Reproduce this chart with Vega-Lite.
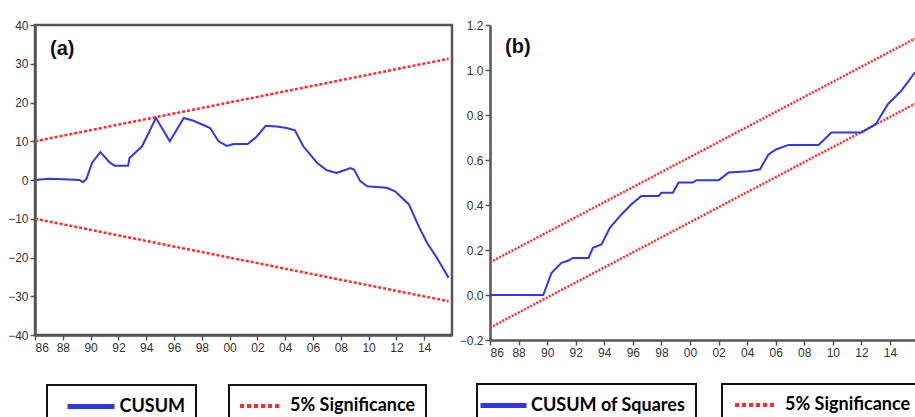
{
  "$schema": "https://vega.github.io/schema/vega-lite/v6.json",
  "padding": {"left": 6, "top": 17, "right": 0, "bottom": 0},
  "spacing": 4,
  "background": "white",
  "config": {
    "view": {"stroke": "#555", "strokeWidth": 2.5},
    "axis": {
      "grid": false,
      "domainColor": "#555",
      "domainWidth": 2.5,
      "tickColor": "#555",
      "tickSize": 5,
      "tickWidth": 1.5,
      "labelFont": "Liberation Sans",
      "labelFontSize": 12,
      "labelColor": "#333",
      "labelPadding": 2,
      "title": null
    },
    "legend": {
      "orient": "none",
      "title": null,
      "strokeColor": "#111",
      "strokeWidth": 2,
      "padding": 10,
      "labelFont": "Lato",
      "labelFontWeight": "bold",
      "labelFontSize": 18,
      "labelColor": "#000",
      "symbolSize": 324
    }
  },
  "datasets": {
    "cusum": [
      {"year": 1986.0, "value": 0},
      {"year": 1987.0, "value": 0.3},
      {"year": 1988.0, "value": 0.2},
      {"year": 1989.2, "value": 0},
      {"year": 1989.45, "value": -0.6},
      {"year": 1989.7, "value": 0.3},
      {"year": 1990.1, "value": 4.4},
      {"year": 1990.7, "value": 7.2},
      {"year": 1991.4, "value": 4.4},
      {"year": 1991.75, "value": 3.7},
      {"year": 1992.7, "value": 3.7},
      {"year": 1992.8, "value": 5.7},
      {"year": 1993.7, "value": 8.7},
      {"year": 1994.7, "value": 16},
      {"year": 1995.7, "value": 10},
      {"year": 1996.7, "value": 16},
      {"year": 1997.4, "value": 15.3},
      {"year": 1998.6, "value": 13.4},
      {"year": 1999.2, "value": 10},
      {"year": 1999.8, "value": 8.8},
      {"year": 2000.3, "value": 9.3},
      {"year": 2001.3, "value": 9.3},
      {"year": 2001.9, "value": 11},
      {"year": 2002.6, "value": 14},
      {"year": 2003.4, "value": 13.8},
      {"year": 2004.1, "value": 13.4},
      {"year": 2004.7, "value": 12.8},
      {"year": 2005.3, "value": 8.7},
      {"year": 2006.3, "value": 4.4},
      {"year": 2007.0, "value": 2.5},
      {"year": 2007.7, "value": 1.8},
      {"year": 2008.7, "value": 3.1},
      {"year": 2008.95, "value": 2.7},
      {"year": 2009.4, "value": -0.3},
      {"year": 2009.9, "value": -1.6},
      {"year": 2011.3, "value": -2.0},
      {"year": 2011.9, "value": -2.9},
      {"year": 2012.9, "value": -6.3},
      {"year": 2013.6, "value": -11.9},
      {"year": 2014.2, "value": -16.2},
      {"year": 2014.9, "value": -20},
      {"year": 2015.75, "value": -25.2}
    ],
    "cusumBounds": [
      {"year": 1986.0, "value": 10, "bound": "upper"},
      {"year": 2015.75, "value": 31.3, "bound": "upper"},
      {"year": 1986.0, "value": -10, "bound": "lower"},
      {"year": 2015.75, "value": -31.3, "bound": "lower"}
    ],
    "cusumsq": [
      {"year": 1986.0, "value": 0},
      {"year": 1989.73, "value": 0},
      {"year": 1990.3, "value": 0.098},
      {"year": 1991.0, "value": 0.143},
      {"year": 1991.5, "value": 0.153},
      {"year": 1991.8, "value": 0.165},
      {"year": 1992.9, "value": 0.165},
      {"year": 1993.2, "value": 0.21},
      {"year": 1993.8, "value": 0.225},
      {"year": 1994.4, "value": 0.30},
      {"year": 1995.2, "value": 0.358},
      {"year": 1995.9, "value": 0.403},
      {"year": 1996.6, "value": 0.44},
      {"year": 1997.8, "value": 0.44},
      {"year": 1998.0, "value": 0.455},
      {"year": 1998.8, "value": 0.455},
      {"year": 1999.2, "value": 0.50},
      {"year": 2000.2, "value": 0.50},
      {"year": 2000.45, "value": 0.51},
      {"year": 2002.0, "value": 0.51},
      {"year": 2002.7, "value": 0.544},
      {"year": 2004.1, "value": 0.55},
      {"year": 2004.9, "value": 0.559},
      {"year": 2005.5, "value": 0.625},
      {"year": 2006.05, "value": 0.648},
      {"year": 2006.9, "value": 0.667},
      {"year": 2009.0, "value": 0.667},
      {"year": 2009.9, "value": 0.722},
      {"year": 2012.0, "value": 0.722},
      {"year": 2013.0, "value": 0.759},
      {"year": 2013.85, "value": 0.848},
      {"year": 2014.8, "value": 0.908},
      {"year": 2015.75, "value": 0.99}
    ],
    "cusumsqBounds": [
      {"year": 1986.0, "value": 0.145, "bound": "upper"},
      {"year": 2015.75, "value": 1.14, "bound": "upper"},
      {"year": 1986.0, "value": -0.145, "bound": "lower"},
      {"year": 2015.75, "value": 0.85, "bound": "lower"}
    ]
  },
  "resolve": {"scale": {"color": "independent"}, "legend": {"color": "independent"}},
  "hconcat": [
    {
      "width": 417,
      "height": 310,
      "resolve": {"scale": {"color": "independent"}, "legend": {"color": "independent"}},
      "encoding": {
        "x": {
          "type": "quantitative",
          "scale": {"domain": [1986, 2016], "nice": false, "zero": false},
          "axis": {
            "values": [1986, 1988, 1990, 1992, 1994, 1996, 1998, 2000, 2002, 2004, 2006, 2008, 2010, 2012, 2014],
            "labelExpr": "substring(toString(100 + datum.value % 100), 1)",
            "labelDx": 3
          }
        },
        "y": {
          "type": "quantitative",
          "scale": {"domain": [-40, 40], "nice": false},
          "axis": {"values": [-40, -30, -20, -10, 0, 10, 20, 30, 40]}
        }
      },
      "layer": [
        {
          "data": {"name": "cusumBounds"},
          "mark": {"type": "line", "strokeWidth": 2.5, "strokeDash": [3, 2]},
          "encoding": {
            "x": {"field": "year"},
            "y": {"field": "value"},
            "detail": {"field": "bound"},
            "color": {
              "datum": "5% Significance",
              "scale": {"range": ["#ff2a2a"]},
              "legend": {
                "legendX": 194, "legendY": 360,
                "symbolType": "M-2.278,0H2.278",
                "symbolStrokeWidth": 4, "symbolDash": [4, 3],
                "symbolOffset": 10.5, "labelOffset": 18.5,
                "symbolStrokeColor": "#ff4a4a",
                "labelExpr": "datum.label + '\u00a0'"
              }
            }
          }
        },
        {
          "mark": {"type": "rule", "color": "#333", "strokeWidth": 2.5},
          "encoding": {"y": {"datum": 0}}
        },
        {
          "data": {"name": "cusum"},
          "mark": {"type": "line", "strokeWidth": 2},
          "encoding": {
            "x": {"field": "year"},
            "y": {"field": "value"},
            "color": {
              "datum": "CUSUM",
              "scale": {"range": ["#3038e0"]},
              "legend": {
                "legendX": 12, "legendY": 360,
                "symbolType": "M-2.611,0H2.611",
                "symbolStrokeWidth": 5,
                "symbolOffset": 22.5, "labelOffset": 17,
                "labelExpr": "datum.label + '\u00a0\u00a0\u00a0\u00a0'"
              }
            }
          }
        },
        {
          "data": {"values": [{"panel": "(a)"}]},
          "mark": {"type": "text", "font": "Liberation Sans", "fontWeight": "bold", "fontSize": 20, "align": "left", "baseline": "middle", "fill": "#111"},
          "encoding": {"x": {"datum": 1987.08}, "y": {"datum": 33.8}, "text": {"field": "panel"}}
        }
      ]
    },
    {
      "width": 425,
      "height": 315,
      "view": {"stroke": null},
      "resolve": {"scale": {"color": "independent"}, "legend": {"color": "independent"}},
      "encoding": {
        "x": {
          "type": "quantitative",
          "scale": {"domain": [1986, 2015.75], "nice": false, "zero": false},
          "axis": {
            "values": [1986, 1988, 1990, 1992, 1994, 1996, 1998, 2000, 2002, 2004, 2006, 2008, 2010, 2012, 2014],
            "labelExpr": "substring(toString(100 + datum.value % 100), 1)",
            "labelDx": 3
          }
        },
        "y": {
          "type": "quantitative",
          "scale": {"domain": [-0.2, 1.2], "nice": false, "zero": false},
          "axis": {"values": [-0.2, 0, 0.2, 0.4, 0.6, 0.8, 1.0, 1.2], "format": ".1f"}
        }
      },
      "layer": [
        {
          "data": {"name": "cusumsqBounds"},
          "mark": {"type": "line", "strokeWidth": 2.5, "strokeDash": [2, 1.5]},
          "encoding": {
            "x": {"field": "year"},
            "y": {"field": "value"},
            "detail": {"field": "bound"},
            "color": {
              "datum": "5% Significance",
              "scale": {"range": ["#ff2a2a"]},
              "legend": {
                "legendX": 232, "legendY": 359,
                "symbolType": "M-2.278,0H2.278",
                "symbolStrokeWidth": 4, "symbolDash": [4, 3],
                "symbolOffset": 12.5, "labelOffset": 18.5,
                "symbolStrokeColor": "#ff4a4a"
              }
            }
          }
        },
        {
          "mark": {"type": "rule", "color": "#333", "strokeWidth": 2.5},
          "encoding": {"y": {"datum": 0}}
        },
        {
          "mark": {"type": "rule", "color": "#555", "strokeWidth": 2.5},
          "encoding": {"y": {"datum": 1.2}}
        },
        {
          "data": {"name": "cusumsq"},
          "mark": {"type": "line", "strokeWidth": 2},
          "encoding": {
            "x": {"field": "year"},
            "y": {"field": "value"},
            "color": {
              "datum": "CUSUM of Squares",
              "scale": {"range": ["#3038e0"]},
              "legend": {
                "legendX": -13, "legendY": 359,
                "symbolType": "M-2.556,0H2.556",
                "symbolStrokeWidth": 5,
                "symbolOffset": 5, "labelOffset": 16
              }
            }
          }
        },
        {
          "data": {"values": [{"panel": "(b)"}]},
          "mark": {"type": "text", "font": "Liberation Sans", "fontWeight": "bold", "fontSize": 20, "align": "left", "baseline": "middle", "fill": "#111"},
          "encoding": {"x": {"datum": 1987.05}, "y": {"datum": 1.104}, "text": {"field": "panel"}}
        }
      ]
    }
  ]
}
